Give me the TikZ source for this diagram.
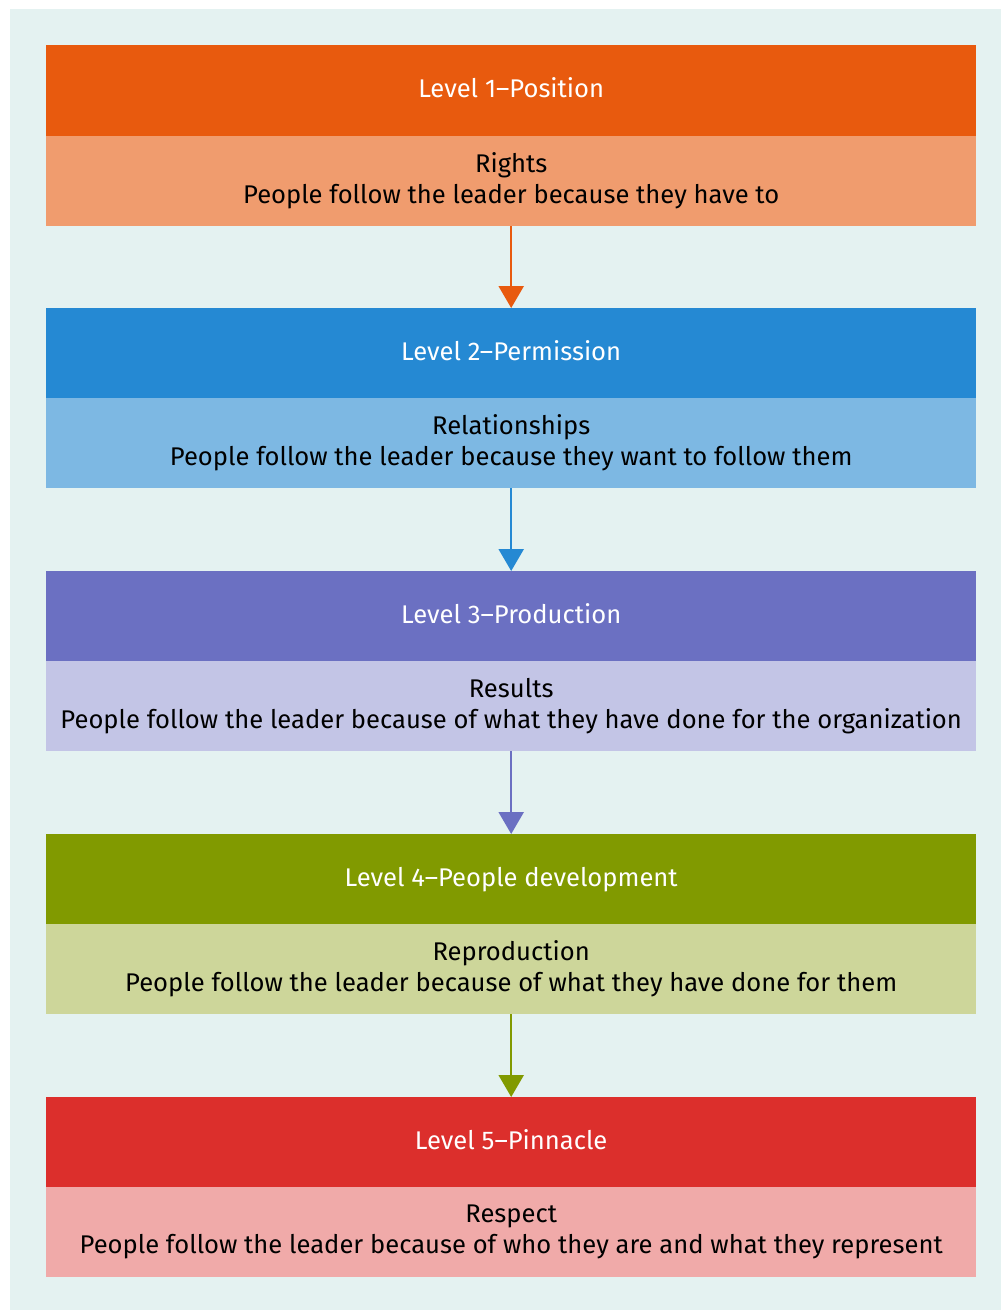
\documentclass[tikz,border=0pt]{standalone}
\usepackage{fontspec}
\setmainfont{Fira Sans}
\usetikzlibrary{arrows.meta}
\definecolor{pagebg}{HTML}{E4F2F1}
\definecolor{hA}{HTML}{E85A0E}\definecolor{bA}{HTML}{F09C6E}
\definecolor{hB}{HTML}{2589D3}\definecolor{bB}{HTML}{7DB8E3}
\definecolor{hC}{HTML}{6B70C2}\definecolor{bC}{HTML}{C3C5E6}
\definecolor{hD}{HTML}{819A00}\definecolor{bD}{HTML}{CDD69A}
\definecolor{hE}{HTML}{DC2F2C}\definecolor{bE}{HTML}{F0AAA9}
\begin{document}
\begin{tikzpicture}[x=1pt,y=-1pt,
  header/.style={fill=#1, text=white, minimum width=930pt, minimum height=91pt,
    anchor=north west, inner sep=0pt, text height=18pt, text depth=4pt,
    font=\fontsize{25.6}{31}\selectfont},
  body/.style={fill=#1, text=black, minimum width=930pt, minimum height=90pt,
    anchor=north west, inner sep=0pt, align=center, font=\fontsize{25.6}{31}\selectfont},
  link/.style={draw=#1, line width=2.4pt, -{Triangle[width=25pt,length=22pt]}}]
  \useasboundingbox (0,0) rectangle (1006,1310);
  \fill[white] (0,0) rectangle (1006,1310);
  \fill[pagebg] (10,9) rectangle (1001,1310);

  \node[header=hA] (h1) at (46,45) {Level 1–Position};
  \node[body=bA] (b1) at (46,136) {Rights\\People follow the leader because they have to};

  \node[header=hB] (h2) at (46,308) {Level 2–Permission};
  \node[body=bB] (b2) at (46,398) {Relationships\\People follow the leader because they want to follow them};

  \node[header=hC] (h3) at (46,571) {Level 3–Production};
  \node[body=bC] (b3) at (46,661) {Results\\People follow the leader because of what they have done for the organization};

  \node[header=hD] (h4) at (46,834) {Level 4–People development};
  \node[body=bD] (b4) at (46,924) {Reproduction\\People follow the leader because of what they have done for them};

  \node[header=hE] (h5) at (46,1097) {Level 5–Pinnacle};
  \node[body=bE] (b5) at (46,1187) {Respect\\People follow the leader because of who they are and what they represent};

  \draw[link=hA] (b1.south) -- (h2.north);
  \draw[link=hB] (b2.south) -- (h3.north);
  \draw[link=hC] (b3.south) -- (h4.north);
  \draw[link=hD] (b4.south) -- (h5.north);
\end{tikzpicture}
\end{document}
